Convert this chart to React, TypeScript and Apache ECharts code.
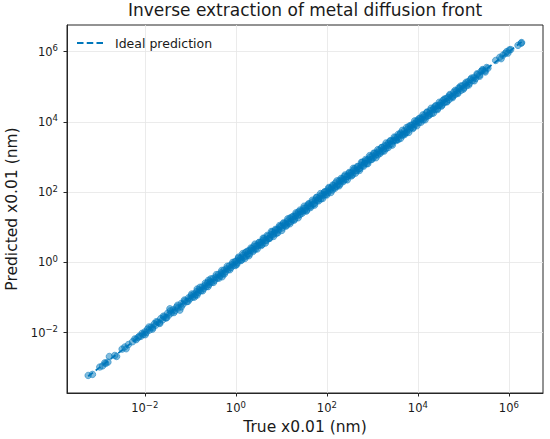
import React, { useEffect, useRef } from "react";
import * as echarts from "echarts";

// Axis extents and ticks, in decades (log10 of the value)
const X_RANGE_LOG10 = [-3.71, 6.75];
const Y_RANGE_LOG10 = [-3.72, 6.76];
const X_TICKS_LOG10 = [-2, 0, 2, 4, 6];
const Y_TICKS_LOG10 = [-2, 0, 2, 4, 6];

const TITLE = "Inverse extraction of metal diffusion front";
const X_NAME = "True x0.01 (nm)";
const Y_NAME = "Predicted x0.01 (nm)";
const LINE_NAME = "Ideal prediction";

// Ideal prediction line end points (log10, y = x)
const IDEAL_LOG10 = [-3.245, 6.28];

// Sparse low end: [log10(true), log10(predicted)]
const LOW_POINTS: [number, number][] = [
  [-3.245, -3.22], [-3.15, -3.19],
  [-2.99, -2.98], [-2.93, -2.95], [-2.88, -2.86], [-2.86, -2.88], [-2.81, -2.84], [-2.78, -2.68],
  [-2.66, -2.65], [-2.62, -2.68], [-2.5, -2.47], [-2.44, -2.41], [-2.41, -2.46], [-2.36, -2.34],
  [-2.27, -2.26], [-2.22, -2.18], [-2.19, -2.2], [-2.15, -2.14], [-2.12, -2.1], [-2.09, -2.11],
  [-2.06, -2.02], [-2.04, -2.06],
];

// -2 .. 0 decades
const MID_LOW_POINTS: [number, number][] = [
  [-2.0, -1.98], [-1.97, -2.0], [-1.94, -1.9], [-1.9, -1.93], [-1.86, -1.84], [-1.83, -1.86],
  [-1.79, -1.75], [-1.76, -1.79], [-1.72, -1.7], [-1.68, -1.72], [-1.65, -1.6], [-1.61, -1.64],
  [-1.58, -1.56], [-1.54, -1.58], [-1.5, -1.45], [-1.47, -1.5], [-1.45, -1.32], [-1.42, -1.44],
  [-1.38, -1.35], [-1.34, -1.38], [-1.3, -1.27], [-1.27, -1.3], [-1.23, -1.36], [-1.2, -1.17],
  [-1.16, -1.19], [-1.12, -1.1], [-1.08, -1.12], [-1.04, -1.01], [-1.01, -1.04],
  [-0.98, -0.95], [-0.95, -0.99], [-0.92, -0.9], [-0.89, -0.93], [-0.86, -0.83], [-0.85, -0.76],
  [-0.83, -0.86], [-0.8, -0.78], [-0.77, -0.81], [-0.74, -0.7], [-0.71, -0.75], [-0.68, -0.66],
  [-0.65, -0.69], [-0.62, -0.58], [-0.6, -0.51], [-0.59, -0.63], [-0.56, -0.55], [-0.53, -0.57],
  [-0.5, -0.46], [-0.47, -0.51], [-0.44, -0.42], [-0.41, -0.45], [-0.38, -0.34], [-0.35, -0.39],
  [-0.32, -0.3], [-0.3, -0.41], [-0.29, -0.33], [-0.26, -0.22], [-0.23, -0.27], [-0.2, -0.18],
  [-0.17, -0.21], [-0.14, -0.1], [-0.11, -0.15], [-0.08, -0.06], [-0.05, -0.09], [-0.02, 0.02],
];

// Wider scatter of the band, -2 .. 0 decades
const MID_LOW_SPREAD: [number, number][] = [
  [-1.99, -2.06], [-1.91, -1.84], [-1.83, -1.9], [-1.75, -1.69], [-1.67, -1.74], [-1.59, -1.53],
  [-1.52, -1.58], [-1.44, -1.38], [-1.36, -1.43], [-1.28, -1.22], [-1.2, -1.27], [-1.13, -1.07],
  [-1.05, -1.11],
  [-0.97, -0.9], [-0.91, -0.99], [-0.85, -0.93], [-0.79, -0.71], [-0.73, -0.81], [-0.67, -0.59],
  [-0.61, -0.69], [-0.55, -0.47], [-0.49, -0.57], [-0.43, -0.35], [-0.37, -0.45], [-0.31, -0.23],
  [-0.25, -0.33], [-0.19, -0.11], [-0.13, -0.21], [-0.07, 0.0], [-0.01, -0.09],
];

// 0 .. 4.5 decades (dense band core)
const DENSE_POINTS: [number, number][] = [
  [0.01, 0.04], [0.03, -0.01], [0.06, 0.12], [0.08, 0.07], [0.11, 0.13], [0.13, 0.07], [0.16, 0.2], [0.18, 0.15], [0.21, 0.28], [0.23, 0.18],
  [0.26, 0.24], [0.28, 0.33], [0.3, 0.24], [0.33, 0.34], [0.35, 0.39], [0.38, 0.35], [0.4, 0.46], [0.43, 0.38], [0.45, 0.47], [0.48, 0.47],
  [0.51, 0.56], [0.53, 0.5], [0.55, 0.56], [0.58, 0.51], [0.6, 0.63], [0.62, 0.68], [0.65, 0.63], [0.67, 0.62], [0.7, 0.74], [0.72, 0.68],
  [0.75, 0.7], [0.77, 0.79], [0.8, 0.87], [0.82, 0.79], [0.84, 0.83], [0.87, 0.91], [0.89, 0.83], [0.92, 0.95], [0.94, 0.92], [0.97, 1.02],
  [1.0, 1.03], [1.02, 0.98], [1.04, 1.1], [1.07, 1.06], [1.09, 1.11], [1.12, 1.06], [1.14, 1.18], [1.16, 1.13], [1.19, 1.26], [1.21, 1.16],
  [1.24, 1.22], [1.26, 1.31], [1.29, 1.23], [1.31, 1.32], [1.33, 1.37], [1.36, 1.33], [1.38, 1.44], [1.41, 1.36], [1.43, 1.45], [1.46, 1.45],
  [1.49, 1.54], [1.51, 1.48], [1.53, 1.54], [1.56, 1.49], [1.58, 1.61], [1.61, 1.67], [1.63, 1.61], [1.65, 1.6], [1.68, 1.72], [1.7, 1.66],
  [1.73, 1.68], [1.75, 1.77], [1.78, 1.85], [1.8, 1.77], [1.82, 1.81], [1.85, 1.89], [1.87, 1.81], [1.9, 1.93], [1.92, 1.9], [1.95, 2.0], [1.97, 1.93],
  [2.0, 2.03], [2.02, 1.98], [2.05, 2.11], [2.07, 2.06], [2.1, 2.12], [2.12, 2.06], [2.14, 2.18], [2.17, 2.14], [2.19, 2.26], [2.22, 2.17],
  [2.24, 2.22], [2.27, 2.32], [2.29, 2.23], [2.31, 2.32], [2.34, 2.38], [2.36, 2.33], [2.39, 2.45], [2.41, 2.36], [2.44, 2.45], [2.46, 2.45],
  [2.49, 2.54], [2.51, 2.48], [2.53, 2.54], [2.56, 2.49], [2.58, 2.61], [2.61, 2.67], [2.63, 2.61], [2.66, 2.61], [2.68, 2.72], [2.71, 2.67],
  [2.73, 2.68], [2.75, 2.77], [2.78, 2.85], [2.8, 2.77], [2.83, 2.82], [2.85, 2.89], [2.88, 2.82], [2.9, 2.93], [2.92, 2.9], [2.95, 3.0], [2.97, 2.93],
  [3.0, 3.03], [3.02, 2.98], [3.05, 3.11], [3.07, 3.06], [3.1, 3.12], [3.12, 3.06], [3.15, 3.19], [3.17, 3.14], [3.2, 3.27], [3.22, 3.17],
  [3.25, 3.23], [3.27, 3.32], [3.3, 3.24], [3.32, 3.33], [3.35, 3.39], [3.37, 3.34], [3.4, 3.46], [3.42, 3.37], [3.45, 3.46], [3.47, 3.46],
  [3.5, 3.55], [3.52, 3.49], [3.55, 3.56], [3.57, 3.5], [3.6, 3.63], [3.62, 3.68], [3.65, 3.63], [3.67, 3.62], [3.7, 3.74], [3.72, 3.68],
  [3.75, 3.7], [3.77, 3.79], [3.8, 3.87], [3.82, 3.79], [3.85, 3.84], [3.87, 3.91], [3.9, 3.84], [3.92, 3.95], [3.95, 3.93], [3.97, 4.02],
  [4.0, 4.03], [4.02, 3.98], [4.05, 4.11], [4.07, 4.06], [4.1, 4.12], [4.12, 4.06], [4.15, 4.19], [4.17, 4.14], [4.2, 4.27], [4.22, 4.17],
  [4.25, 4.23], [4.27, 4.32], [4.3, 4.24], [4.33, 4.34], [4.35, 4.39], [4.38, 4.35], [4.4, 4.46], [4.43, 4.38], [4.45, 4.46], [4.48, 4.47],
];

// Wider scatter of the band, 0 .. 5.5 decades
const DENSE_SPREAD: [number, number][] = [
  [0.02, -0.06], [0.06, 0.15], [0.11, 0.05], [0.15, 0.25], [0.2, 0.11], [0.24, 0.31], [0.29, 0.19], [0.33, 0.41], [0.38, 0.31], [0.42, 0.52],
  [0.47, 0.38], [0.51, 0.57], [0.56, 0.48], [0.6, 0.69], [0.65, 0.55], [0.69, 0.77], [0.74, 0.68], [0.78, 0.88], [0.83, 0.74], [0.87, 0.94],
  [0.92, 0.84], [0.96, 1.05],
  [1.01, 0.91], [1.05, 1.13], [1.1, 1.03], [1.14, 1.24], [1.19, 1.1], [1.23, 1.29], [1.28, 1.2], [1.32, 1.41], [1.37, 1.27], [1.41, 1.49],
  [1.46, 1.4], [1.5, 1.6], [1.55, 1.46], [1.59, 1.66], [1.64, 1.56], [1.68, 1.77], [1.73, 1.63], [1.77, 1.85], [1.82, 1.75], [1.86, 1.96],
  [1.91, 1.82], [1.95, 2.01],
  [2.0, 1.92], [2.04, 2.13], [2.09, 1.99], [2.13, 2.2], [2.18, 2.11], [2.22, 2.32], [2.27, 2.18], [2.31, 2.39], [2.36, 2.3], [2.4, 2.49],
  [2.45, 2.35], [2.49, 2.56], [2.54, 2.46], [2.58, 2.68], [2.63, 2.54], [2.67, 2.73], [2.72, 2.62], [2.76, 2.85], [2.81, 2.74], [2.85, 2.93],
  [2.9, 2.81], [2.94, 3.04], [2.99, 2.93],
  [3.03, 3.11], [3.08, 2.98], [3.12, 3.21], [3.17, 3.1], [3.21, 3.27], [3.26, 3.17], [3.3, 3.4], [3.35, 3.27], [3.39, 3.46], [3.44, 3.34],
  [3.48, 3.57], [3.53, 3.47], [3.57, 3.65], [3.62, 3.53], [3.66, 3.76], [3.71, 3.64], [3.75, 3.84], [3.8, 3.7], [3.84, 3.9], [3.89, 3.81],
  [3.93, 4.03], [3.98, 3.89],
  [4.02, 4.09], [4.07, 3.99], [4.11, 4.2], [4.16, 4.06], [4.2, 4.28], [4.25, 4.19], [4.29, 4.39], [4.34, 4.25], [4.38, 4.45], [4.43, 4.35],
  [4.47, 4.56], [4.52, 4.45], [4.58, 4.65], [4.64, 4.57], [4.7, 4.78], [4.76, 4.69], [4.82, 4.9], [4.88, 4.81], [4.94, 5.02], [5.0, 4.93],
  [5.06, 5.13], [5.12, 5.05], [5.18, 5.25], [5.24, 5.17], [5.3, 5.37], [5.36, 5.3], [5.42, 5.49], [5.48, 5.42],
];

// 4.5 .. 6.3 decades
const HIGH_POINTS: [number, number][] = [
  [4.5, 4.53], [4.53, 4.48], [4.55, 4.61], [4.58, 4.55], [4.61, 4.66], [4.63, 4.58], [4.66, 4.7], [4.69, 4.64],
  [4.71, 4.76], [4.74, 4.72], [4.77, 4.73], [4.79, 4.85], [4.82, 4.78], [4.85, 4.88], [4.87, 4.83], [4.9, 4.97],
  [4.92, 4.95], [4.95, 4.9], [4.98, 5.03], [5.01, 4.97], [5.04, 5.08], [5.07, 5.03], [5.1, 5.14], [5.13, 5.1],
  [5.16, 5.21], [5.2, 5.18], [5.23, 5.26], [5.27, 5.24], [5.31, 5.35], [5.35, 5.33], [5.39, 5.44], [5.43, 5.47],
  [5.47, 5.45], [5.51, 5.55], [5.54, 5.53],
  [5.71, 5.75], [5.8, 5.84], [5.83, 5.8], [5.87, 5.9], [5.92, 5.95], [5.95, 6.0], [5.98, 5.96], [6.01, 6.05],
  [6.04, 6.06], [6.2, 6.18], [6.27, 6.24], [6.28, 6.26],
];

function powLabel(v: number): string {
  const r = Math.round(v);
  if (Math.abs(v - r) > 1e-6) return "";
  const exp = r < 0 ? "\u2212" + String(-r) : String(r);
  return "{b|10}{s|" + exp + "}";
}

const FONT = "DejaVu Sans";
const INK = "#1a1a1a";
const FRAME = "#262626";
const BLUE = "#0077BB";

const TICK_RICH = {
  b: { fontFamily: FONT, fontSize: 11.5, lineHeight: 16, color: INK },
  s: { fontFamily: FONT, fontSize: 8.5, lineHeight: 7.5, verticalAlign: "top", color: INK },
};

export default function App() {
  const ref = useRef<HTMLDivElement>(null);

  useEffect(() => {
    if (!ref.current) return;
    const chart = echarts.init(ref.current, undefined, { renderer: "svg" });
    const points = [
      ...LOW_POINTS,
      ...MID_LOW_POINTS,
      ...MID_LOW_SPREAD,
      ...DENSE_POINTS,
      ...DENSE_SPREAD,
      ...HIGH_POINTS,
    ];
    const axisCommon = {
      type: "value" as const,
      splitNumber: 5,
      nameLocation: "middle" as const,
      nameTextStyle: { fontFamily: FONT, fontSize: 15.5, color: INK },
      axisLine: { show: true, onZero: false, lineStyle: { color: FRAME, width: 1 } },
      splitLine: { show: true, lineStyle: { color: "#e6e6e6", width: 0.8 } },
    };
    chart.setOption({
      animation: false,
      backgroundColor: "#ffffff",
      title: {
        text: TITLE,
        left: 305,
        top: 1,
        padding: 0,
        textAlign: "center",
        textStyle: { fontFamily: FONT, fontSize: 17, fontWeight: "normal", color: INK },
      },
      legend: {
        data: [LINE_NAME],
        icon: "path://M0,0H6.5V2H0Z M9.75,0H16.25V2H9.75Z M19.5,0H26V2H19.5Z",
        left: 77,
        top: 36.5,
        padding: 0,
        itemWidth: 26,
        itemHeight: 2,
        selectedMode: false,
        textStyle: { fontFamily: FONT, fontSize: 12.5, color: INK, padding: [0, 0, 0, 7] },
      },
      grid: {
        left: 67,
        right: 7,
        top: 25,
        bottom: 46,
        containLabel: false,
        outerBoundsMode: "none",
        show: true,
        borderColor: FRAME,
        borderWidth: 1,
        backgroundColor: "transparent",
      },
      xAxis: {
        ...axisCommon,
        min: X_RANGE_LOG10[0],
        max: X_RANGE_LOG10[1],
        name: X_NAME,
        nameGap: 26,
        axisTick: { show: true, customValues: X_TICKS_LOG10, length: 3.5, lineStyle: { color: FRAME, width: 1 } },
        axisLabel: {
          customValues: X_TICKS_LOG10,
          formatter: (v: number) => powLabel(v),
          rich: TICK_RICH,
          margin: 7,
        },
      },
      yAxis: {
        ...axisCommon,
        min: Y_RANGE_LOG10[0],
        max: Y_RANGE_LOG10[1],
        name: Y_NAME,
        nameGap: 46,
        axisTick: { show: true, customValues: Y_TICKS_LOG10, length: 3.5, lineStyle: { color: FRAME, width: 1 } },
        axisLabel: {
          customValues: Y_TICKS_LOG10,
          formatter: (v: number) => powLabel(v),
          rich: TICK_RICH,
          margin: 9,
        },
      },
      series: [
        {
          type: "scatter",
          name: "Samples",
          data: points,
          symbol: "circle",
          symbolSize: 6.5,
          silent: true,
          itemStyle: {
            color: "rgba(0,119,187,0.62)",
            borderColor: "rgba(0,119,187,0.8)",
            borderWidth: 0.8,
          },
          z: 2,
        },
        {
          type: "line",
          name: LINE_NAME,
          data: [
            [IDEAL_LOG10[0], IDEAL_LOG10[0]],
            [IDEAL_LOG10[1], IDEAL_LOG10[1]],
          ],
          symbol: "none",
          silent: true,
          lineStyle: { color: BLUE, width: 1.8, type: [6, 3.5] },
          itemStyle: { color: BLUE },
          z: 3,
        },
      ],
    });
    return () => chart.dispose();
  }, []);

  return (
    <div
      ref={ref}
      style={{ position: "fixed", left: 0, top: 0, width: 550, height: 439, background: "#fff" }}
    />
  );
}
